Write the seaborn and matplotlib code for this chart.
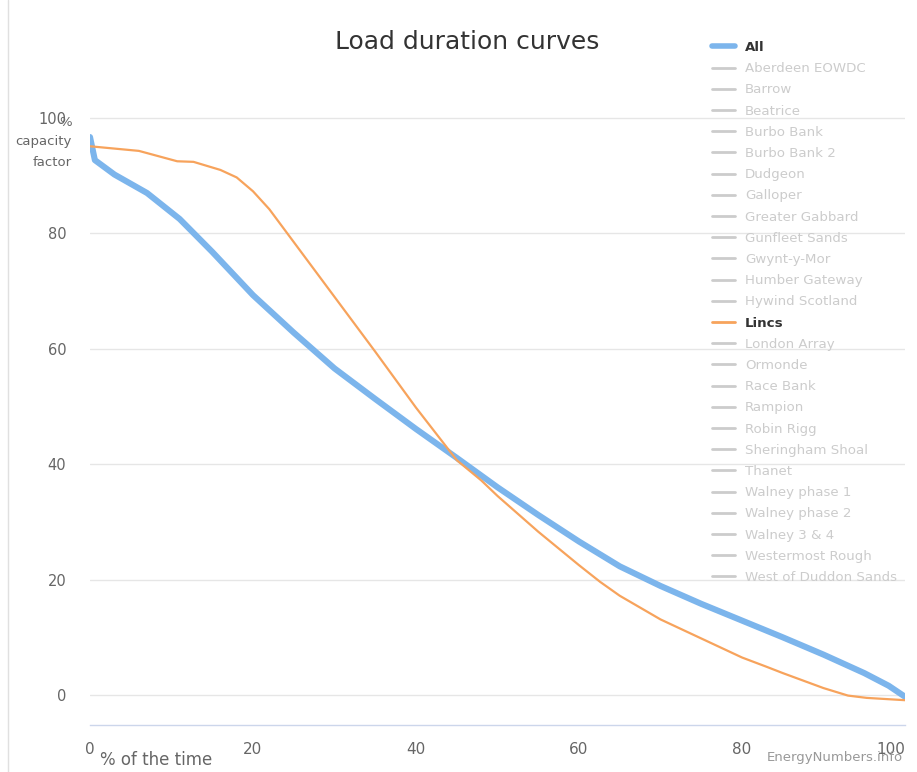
import matplotlib
matplotlib.use("Agg")
import matplotlib.pyplot as plt
from matplotlib.lines import Line2D
import seaborn as sns
import pandas as pd

# ---- data ----
all_x = [0, 0.6, 3, 7, 11, 15, 20, 25, 30, 35, 40, 45, 50, 55, 60, 65, 70, 75, 80, 85, 90, 95, 98, 100]
all_y = [96.7, 92.7, 90.2, 87.0, 82.5, 76.8, 69.3, 62.8, 56.6, 51.3, 46.1, 41.1, 36.0, 31.2, 26.6, 22.3, 18.9, 15.8, 12.9, 10.0, 7.0, 3.8, 1.6, -0.3]

lincs_x = [0, 6, 10.7, 12.7, 16, 18, 20, 22, 24, 26, 28, 30, 32, 35, 40, 45, 48, 50, 55, 60, 62.6, 65, 70, 75, 80, 83, 85, 90, 93, 95.3, 100]
lincs_y = [95.1, 94.3, 92.5, 92.4, 91.0, 89.7, 87.3, 84.2, 80.4, 76.6, 72.8, 69.0, 65.2, 59.5, 49.8, 40.7, 37.2, 34.5, 28.3, 22.5, 19.6, 17.2, 13.1, 9.8, 6.5, 4.9, 3.8, 1.2, -0.1, -0.5, -0.9]

legend_labels = ["All", "Aberdeen EOWDC", "Barrow", "Beatrice", "Burbo Bank", "Burbo Bank 2",
                 "Dudgeon", "Galloper", "Greater Gabbard", "Gunfleet Sands", "Gwynt-y-Mor",
                 "Humber Gateway", "Hywind Scotland", "Lincs", "London Array", "Ormonde",
                 "Race Bank", "Rampion", "Robin Rigg", "Sheringham Shoal", "Thanet",
                 "Walney phase 1", "Walney phase 2", "Walney 3 & 4", "Westermost Rough",
                 "West of Duddon Sands"]
visible = ["All", "Lincs"]

y_ticks = [0, 20, 40, 60, 80, 100]
x_ticks = [0, 20, 40, 60, 80, 100]

BLUE = "#7cb5ec"
ORANGE = "#f7a35c"
HIDDEN = "#cccccc"

sns.set_theme(style="white")
plt.rcParams['font.family'] = ['DejaVu Sans']

W, H = 917, 772
fig = plt.figure(figsize=(W / 100, H / 100), dpi=100)
fig.patch.set_facecolor("white")

# axes pixel geometry
px_left, px_right = 90, 905
px_top, px_bottom = 115, 725
ax = fig.add_axes([px_left / W, 1 - px_bottom / H, (px_right - px_left) / W, (px_bottom - px_top) / H])

df_all = pd.DataFrame({"x": all_x, "y": all_y})
df_lincs = pd.DataFrame({"x": lincs_x, "y": lincs_y})

sns.lineplot(data=df_all, x="x", y="y", ax=ax, color=BLUE, linewidth=4.4, zorder=3,
             solid_capstyle="round", solid_joinstyle="round")
sns.lineplot(data=df_lincs, x="x", y="y", ax=ax, color=ORANGE, linewidth=1.6, zorder=4,
             solid_joinstyle="round")

# y scale: 0 at px 695, 100 at px 118
unit = (695 - 118) / 100.0
ax.set_ylim(-(725 - 695) / unit, (695 - 115) / unit)
ax.set_xlim(0, 100)

ax.set_yticks(y_ticks)
ax.set_xticks(x_ticks)
ax.set_yticklabels([str(v) for v in y_ticks])
ax.set_xticklabels([str(v) for v in x_ticks])
ax.grid(axis="y", color="#e6e6e6", linewidth=1)
ax.grid(axis="x", visible=False)
for s in ["left", "right", "top"]:
    ax.spines[s].set_visible(False)
ax.spines["bottom"].set_color("#ccd6eb")
ax.spines["bottom"].set_linewidth(1)
ax.tick_params(axis="y", length=0, pad=17, labelsize=10.5, labelcolor="#666666")
ax.tick_params(axis="x", length=10, width=1, color="#ccd6eb", direction="out", pad=2,
               labelsize=11, labelcolor="#666666")
xl = ax.get_xticklabels()
xl[-1].set_horizontalalignment("right")
xl[-1].set_x(100)
ax.set_xlabel("")
ax.set_ylabel("")

# title
fig.text(467 / W, 1 - 42 / H, "Load duration curves", ha="center", va="center",
         fontsize=18, color="#333333")

# y-axis title
fig.text(72 / W, 1 - 123 / H, "%", ha="right", va="center", fontsize=9.5, color="#666666")
fig.text(72 / W, 1 - 142 / H, "capacity", ha="right", va="center", fontsize=9.5, color="#666666")
fig.text(72 / W, 1 - 162 / H, "factor", ha="right", va="center", fontsize=9.5, color="#666666")

# x-axis title
fig.text(100 / W, 1 - 760 / H, "% of the time", ha="left", va="center", fontsize=12, color="#666666")

# credit
fig.text(903 / W, 1 - 758 / H, "EnergyNumbers.info", ha="right", va="center", fontsize=9.5, color="#999999")

# legend
handles = []
for lab in legend_labels:
    if lab == "All":
        handles.append(Line2D([], [], color=BLUE, linewidth=4))
    elif lab == "Lincs":
        handles.append(Line2D([], [], color=ORANGE, linewidth=2))
    else:
        handles.append(Line2D([], [], color=HIDDEN, linewidth=2))
leg = fig.legend(handles=handles, labels=legend_labels, loc="upper left",
                 bbox_to_anchor=(712 / W, 1 - 41 / H), frameon=False, fontsize=9.6,
                 handlelength=1.73, handletextpad=0.75, labelspacing=0.615,
                 borderpad=0, borderaxespad=0)
for txt, lab in zip(leg.get_texts(), legend_labels):
    if lab in visible:
        txt.set_color("#333333")
        txt.set_fontweight("bold")
    else:
        txt.set_color(HIDDEN)

# faint left border
fig.add_artist(Line2D([8 / W, 8 / W], [0, 1], transform=fig.transFigure, color="#e0e0e0", linewidth=1))

fig.savefig("out.png", dpi=100, facecolor="white")
